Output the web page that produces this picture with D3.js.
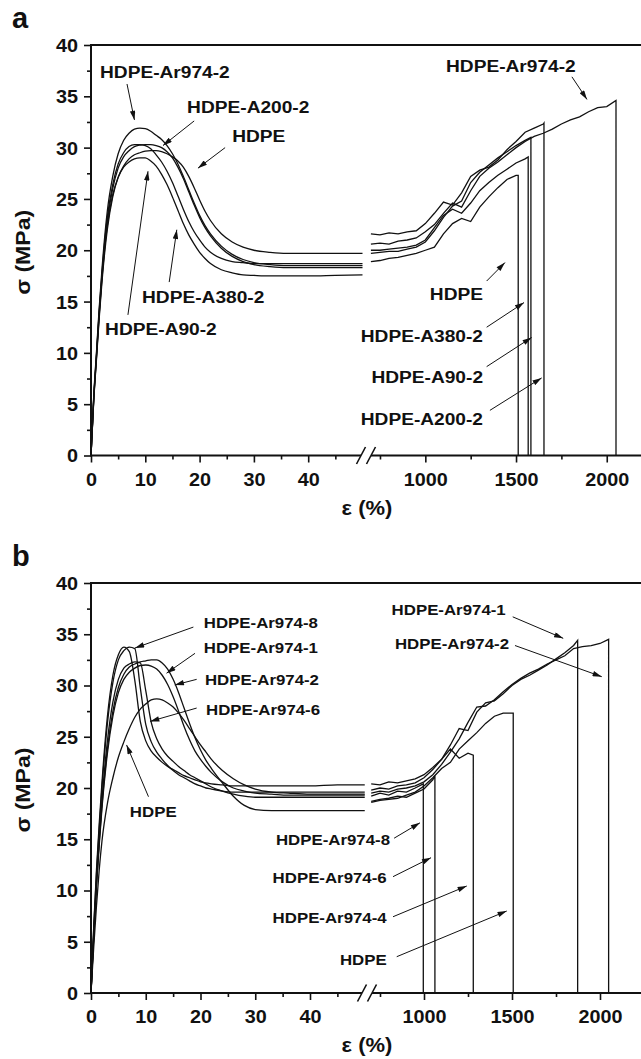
<!DOCTYPE html>
<html>
<head>
<meta charset="utf-8">
<script src="https://cdn.jsdelivr.net/npm/d3@7"></script>
<style>
  body { margin: 0; background: #fff; }
  svg { display: block; }
  text { font-family: "Liberation Sans", Arial, sans-serif; font-weight: bold; fill: #111; }
</style>
</head>
<body>
<div id="chart"></div>
<script>
// strain grids (%): yield part (left of the break) and drawing part (right of the break)
const leftStrain = [0, 0.5, 1, 1.5, 2, 3, 4, 5, 6, 7, 8, 9, 10, 11, 12, 13, 14, 15, 16, 17, 18, 19, 20, 21, 22, 24, 26, 28, 30, 33, 36, 40, 45, 50];
const rightStrain = [700, 750, 800, 850, 900, 950, 1000, 1050, 1100, 1150, 1200, 1250, 1300, 1350, 1400, 1450, 1500, 1550, 1600, 1650, 1700, 1750, 1800, 1850, 1900, 1950, 2000];

// tick values
const yMajor = [0, 5, 10, 15, 20, 25, 30, 35, 40];
const yMinor = [2.5, 7.5, 12.5, 17.5, 22.5, 27.5, 32.5, 37.5];
const xLeftMajor = [0, 10, 20, 30, 40];
const xLeftMinor = [5, 15, 25, 35, 45];
const xRightMajor = [1000, 1500, 2000];
const xRightMinor = [750, 1250, 1750];

// ---- panel a : stress (MPa) ----
const aSamples = ["HDPE", "HDPE-A90-2", "HDPE-A200-2", "HDPE-A380-2", "HDPE-Ar974-2"];
const aLeftHDPE = [0, 5.3, 9.3, 13.3, 16.8, 22, 25.2, 27.1, 28.2, 28.9, 29.3, 29.5, 29.65, 29.7, 29.7, 29.6, 29.4, 29.1, 28.7, 28.1, 27.2, 26.1, 24.9, 23.8, 22.9, 21.6, 20.8, 20.3, 20, 19.8, 19.7, 19.7, 19.7, 19.7];
const aLeftA90 = [0, 5.4, 9.5, 13.6, 17.1, 22.4, 25.4, 27.1, 28.1, 28.6, 28.9, 29, 29, 28.7, 28.2, 27.4, 26.4, 25.2, 23.9, 22.6, 21.5, 20.6, 19.8, 19.2, 18.7, 18.1, 17.8, 17.6, 17.55, 17.5, 17.5, 17.5, 17.55, 17.6];
const aLeftA200 = [0, 5.5, 9.6, 13.8, 17.3, 22.8, 26, 28, 29.1, 29.7, 30.1, 30.25, 30.3, 30.3, 30.2, 30, 29.6, 29, 28.1, 27, 25.7, 24.4, 23.2, 22.2, 21.4, 20.2, 19.4, 18.9, 18.6, 18.4, 18.3, 18.3, 18.3, 18.3];
const aLeftA380 = [0, 5.6, 9.8, 14, 17.6, 23.2, 26.4, 28.4, 29.5, 30.1, 30.3, 30.3, 30.2, 29.9, 29.3, 28.6, 27.7, 26.6, 25.3, 24, 22.8, 21.8, 21, 20.3, 19.8, 19.2, 18.9, 18.8, 18.7, 18.7, 18.7, 18.7, 18.7, 18.7];
const aLeftAr974 = [0, 5.8, 10, 14.3, 18, 23.8, 27.2, 29.4, 30.7, 31.4, 31.8, 31.9, 31.85, 31.6, 31.2, 30.8, 30.2, 29.4, 28.4, 27.2, 25.9, 24.6, 23.4, 22.4, 21.6, 20.4, 19.6, 19.1, 18.8, 18.6, 18.5, 18.5, 18.5, 18.5];

const aRightHDPE = [18.9, 19.0, 19.2, 19.3, 19.5, 19.7, 20.0, 20.3, 21.6, 22.6, 23.1, 22.8, 24.2, 25.2, 26.1, 26.9, 27.3];
const aRightA90 = [19.7, 19.8, 19.9, 19.9, 20.1, 20.3, 20.8, 21.9, 23.2, 24.3, 24.8, 26.6, 27.6, 28.3, 29.0, 29.6, 30.2, 30.7];
const aRightA200 = [21.6, 21.5, 21.7, 21.6, 21.8, 21.9, 22.6, 23.6, 24.7, 24.4, 25.6, 27.2, 27.8, 28.1, 28.8, 29.8, 30.6, 31.5, 31.9, 32.3];
const aRightA380 = [20.0, 20.0, 20.1, 20.2, 20.3, 20.5, 21.0, 22.2, 23.4, 24.0, 23.6, 24.6, 25.8, 26.6, 27.3, 27.9, 28.5, 28.9];
const aRightAr974 = [20.6, 20.7, 20.6, 20.9, 21.0, 21.2, 21.8, 22.5, 23.6, 24.6, 24.2, 25.8, 27.2, 28.0, 28.6, 29.3, 30.0, 30.6, 31.1, 31.4, 31.8, 32.3, 32.7, 33.0, 33.5, 33.9, 34.0];

const aBreakStrain = [1512, 1582, 1654, 1567, 2051];
const aBreakStress = [27.3, 31.0, 32.4, 29.1, 34.6];

// annotations: text, segment, text strain, text stress, anchor, arrow from (strain, stress) to (strain, stress)
const aNotes = [
  ["HDPE-Ar974-2", "L", 1.66, 36.8, "start", 6.63, 36.2, 8.0, 32.7],
  ["HDPE-A200-2", "L", 17.7, 33.4, "start", 19.0, 32.6, 13.26, 30.2],
  ["HDPE", "L", 26.0, 30.5, "start", 24.7, 30.0, 19.7, 28.0],
  ["HDPE-A380-2", "L", 9.4, 14.85, "start", 14.4, 16.9, 15.8, 22.0],
  ["HDPE-A90-2", "L", 2.6, 11.75, "start", 6.8, 13.7, 10.5, 27.7],
  ["HDPE-Ar974-2", "R", 1114, 37.4, "start", 1808, 36.9, 1891, 34.7],
  ["HDPE", "R", 1318, 15.2, "end", 1338, 17.0, 1439, 18.8],
  ["HDPE-A380-2", "R", 1318, 11.1, "end", 1338, 12.5, 1544, 14.9],
  ["HDPE-A90-2", "R", 1318, 7.07, "end", 1338, 8.66, 1586, 11.5],
  ["HDPE-A200-2", "R", 1318, 2.98, "end", 1356, 4.4, 1641, 7.56]
];

// ---- panel b : stress (MPa) ----
const bSamples = ["HDPE", "HDPE-Ar974-1", "HDPE-Ar974-2", "HDPE-Ar974-4", "HDPE-Ar974-6", "HDPE-Ar974-8"];
const bLeftHDPE = [0, 4.5, 8.5, 12, 14.8, 18.5, 21, 23, 24.5, 25.8, 26.9, 27.7, 28.2, 28.6, 28.7, 28.6, 28.3, 27.9, 27.3, 26.6, 25.8, 25, 24.2, 23.5, 22.8, 21.7, 20.9, 20.3, 19.9, 19.6, 19.5, 19.4, 19.4, 19.4];
const bLeftAr1 = [0, 5.6, 10.6, 14.7, 18.3, 23.8, 27.5, 29.8, 31.1, 31.8, 32.1, 32.3, 32.4, 32.5, 32.5, 32.2, 31.6, 30.6, 29.3, 27.8, 26.3, 24.9, 23.7, 22.7, 21.9, 20.5, 19.2, 18.3, 17.9, 17.8, 17.8, 17.8, 17.8, 17.8];
const bLeftAr2 = [0, 5.5, 10.4, 14.4, 18, 23.4, 27, 29.3, 30.6, 31.3, 31.7, 31.95, 32, 31.9, 31.6, 31, 30.1, 28.9, 27.5, 26, 24.7, 23.6, 22.8, 22.1, 21.5, 20.6, 20, 19.7, 19.5, 19.4, 19.3, 19.3, 19.3, 19.3];
const bLeftAr4 = [0, 6.5, 12, 16.5, 20.5, 27, 31, 33, 33.75, 33.3, 30.5, 26.5, 24.6, 23.6, 23, 22.5, 22.1, 21.8, 21.5, 21.2, 21, 20.8, 20.6, 20.5, 20.4, 20.3, 20.2, 20.2, 20.2, 20.2, 20.2, 20.2, 20.3, 20.3];
const bLeftAr6 = [0, 5.8, 10.8, 15, 18.8, 24.6, 28.4, 30.6, 31.7, 32.1, 32.3, 32.2, 29.5, 26.4, 24.8, 23.8, 23.1, 22.6, 22.1, 21.7, 21.3, 21, 20.7, 20.4, 20.1, 19.7, 19.4, 19.2, 19.1, 19.1, 19.1, 19.1, 19.1, 19.1];
const bLeftAr8 = [0, 6.3, 11.6, 16, 20, 26.3, 30.3, 32.5, 33.4, 33.75, 33.6, 29.8, 26.2, 24.5, 23.5, 22.8, 22.2, 21.7, 21.3, 21, 20.7, 20.4, 20.2, 20, 19.9, 19.7, 19.6, 19.6, 19.6, 19.6, 19.6, 19.6, 19.6, 19.6];

const bRightHDPE = [18.6, 18.8, 18.9, 19.0, 19.3, 19.6, 20.2, 21.0, 21.9, 22.5, 23.8, 24.6, 25.4, 26.3, 27.0, 27.3, 27.3];
const bRightAr1 = [19.8, 20.0, 19.9, 20.2, 20.3, 20.5, 21.0, 21.8, 22.8, 24.2, 25.8, 25.6, 27.4, 28.3, 28.5, 29.2, 30.0, 30.6, 31.0, 31.5, 32.0, 32.6, 33.2, 33.9];
const bRightAr2 = [19.5, 19.7, 19.6, 19.9, 20.0, 20.2, 20.6, 21.3, 22.3, 23.5, 24.8, 26.4, 27.9, 28.0, 28.6, 29.4, 30.1, 30.7, 31.2, 31.6, 32.1, 32.5, 32.9, 33.6, 33.8, 33.9, 34.1];
const bRightAr4 = [20.4, 20.3, 20.6, 20.5, 20.7, 20.9, 21.3, 22.0, 22.8, 23.8, 22.9, 23.4];
const bRightAr6 = [18.7, 18.9, 19.0, 19.2, 19.1, 19.5, 19.9, 20.8];
const bRightAr8 = [19.2, 19.5, 19.3, 19.7, 19.6, 20.0];

const bBreakStrain = [1507, 1873, 2049, 1280, 1062, 996];
const bBreakStress = [27.3, 34.4, 34.5, 23.2, 21.2, 20.4];

const bNotes = [
  ["HDPE-Ar974-8", "L", 20.6, 35.6, "start", 18.7, 35.7, 8.04, 33.66],
  ["HDPE-Ar974-1", "L", 20.6, 33.2, "start", 19.0, 33.14, 13.8, 31.2],
  ["HDPE-Ar974-2", "L", 20.8, 30.05, "start", 19.3, 30.6, 15.3, 30.05],
  ["HDPE-Ar974-6", "L", 21.0, 27.1, "start", 19.3, 27.8, 10.8, 26.5],
  ["HDPE", "L", 7.1, 17.2, "start", 10.5, 19.15, 6.5, 24.2],
  ["HDPE-Ar974-1", "R", 816, 36.9, "start", 1504, 36.7, 1791, 34.6],
  ["HDPE-Ar974-2", "R", 835, 33.6, "start", 1517, 33.9, 2010, 30.86],
  ["HDPE-Ar974-8", "R", 807, 14.4, "end", 830, 15.1, 977, 16.6],
  ["HDPE-Ar974-6", "R", 788, 10.7, "end", 824, 11.35, 1040, 13.2],
  ["HDPE-Ar974-4", "R", 788, 6.8, "end", 824, 7.44, 1243, 10.44],
  ["HDPE", "R", 788, 2.73, "end", 845, 3.54, 1470, 8.0]
];

const panels = [
  { name: "a", top: 45, bottom: 455.5, xLeft: [91, 362.5], xRight: [370.9, 652.1], slash: [361, 371], noteSize: 17.4,
    left: [aLeftHDPE, aLeftA90, aLeftA200, aLeftA380, aLeftAr974],
    right: [aRightHDPE, aRightA90, aRightA200, aRightA380, aRightAr974],
    breakStrain: aBreakStrain, breakStress: aBreakStress, notes: aNotes },
  { name: "b", top: 583, bottom: 993, xLeft: [91, 364.75], xRight: [371.2, 644], slash: [362, 372], noteSize: 15.3,
    left: [bLeftHDPE, bLeftAr1, bLeftAr2, bLeftAr4, bLeftAr6, bLeftAr8],
    right: [bRightHDPE, bRightAr1, bRightAr2, bRightAr4, bRightAr6, bRightAr8],
    breakStrain: bBreakStrain, breakStress: bBreakStress, notes: bNotes }
];

const ink = "#111";
const svg = d3.select("#chart").append("svg").attr("width", 641).attr("height", 1059);

svg.append("defs").append("marker")
    .attr("id", "arrow")
    .attr("viewBox", "0 0 10 6")
    .attr("refX", 10).attr("refY", 3)
    .attr("markerWidth", 10).attr("markerHeight", 5.5)
    .attr("markerUnits", "userSpaceOnUse")
    .attr("orient", "auto")
  .append("path").attr("d", "M0,0L10,3L0,6Z").attr("fill", ink);

function styleAxis(ax) {
    ax.attr("font-family", null).attr("font-size", null);
    ax.select(".domain").remove();
    ax.selectAll(".tick line").attr("stroke", ink).attr("stroke-width", 1.6);
}

function drawPanel(p) {
    const g = svg.append("g");
    const y = d3.scaleLinear().domain([0, 40]).range([p.bottom, p.top]);
    const xL = d3.scaleLinear().domain([0, 50]).range(p.xLeft);
    const xR = d3.scaleLinear().domain([700, 2250]).range(p.xRight);

    // y axis
    const yAx = g.append("g").attr("transform", `translate(${p.xLeft[0]},0)`)
        .call(d3.axisLeft(y).tickValues(yMajor).tickSize(7).tickFormat(d3.format("d")));
    styleAxis(yAx);
    yAx.selectAll("text")
        .attr("x", null).attr("dy", "0.36em")
        .attr("transform", "translate(-13,0) scale(1.1,1)")
        .style("font-size", "18px").attr("fill", ink);
    const yMin = g.append("g").attr("transform", `translate(${p.xLeft[0]},0)`)
        .call(d3.axisLeft(y).tickValues(yMinor).tickSize(4).tickFormat(""));
    styleAxis(yMin);

    // x axes (two segments)
    [[xL, xLeftMajor, xLeftMinor], [xR, xRightMajor, xRightMinor]].forEach(([sc, maj, min]) => {
        const ax = g.append("g").attr("transform", `translate(0,${p.bottom})`)
            .call(d3.axisBottom(sc).tickValues(maj).tickSize(7).tickFormat(d3.format("d")));
        styleAxis(ax);
        ax.selectAll("text")
            .attr("y", null).attr("dy", null)
            .attr("transform", "translate(0,30) scale(1.1,1)")
            .style("font-size", "18px").attr("fill", ink);
        const axm = g.append("g").attr("transform", `translate(0,${p.bottom})`)
            .call(d3.axisBottom(sc).tickValues(min).tickSize(4).tickFormat(""));
        styleAxis(axm);
    });

    // frame lines
    g.append("line").attr("x1", p.xLeft[0]).attr("x2", p.xLeft[0]).attr("y1", p.top - 1).attr("y2", p.bottom + 1)
        .attr("stroke", ink).attr("stroke-width", 2);
    g.append("line").attr("x1", p.xLeft[0]).attr("x2", 650).attr("y1", p.top).attr("y2", p.top)
        .attr("stroke", ink).attr("stroke-width", 2);
    g.append("line").attr("x1", p.xLeft[0]).attr("x2", p.slash[0]).attr("y1", p.bottom).attr("y2", p.bottom)
        .attr("stroke", ink).attr("stroke-width", 2);
    g.append("line").attr("x1", p.slash[1]).attr("x2", 650).attr("y1", p.bottom).attr("y2", p.bottom)
        .attr("stroke", ink).attr("stroke-width", 2);
    p.slash.forEach(c => {
        g.append("line")
            .attr("x1", c - 4.5).attr("y1", p.bottom + 8.5)
            .attr("x2", c + 4.5).attr("y2", p.bottom - 8.5)
            .attr("stroke", ink).attr("stroke-width", 1.6);
    });

    // curves, yield part
    const lineL = d3.line()
        .x((d, i) => xL(leftStrain[i]))
        .y(d => y(d))
        .curve(d3.curveMonotoneX);
    g.selectAll(".cl").data(p.left).enter().append("path")
        .attr("d", lineL)
        .attr("fill", "none").attr("stroke", ink).attr("stroke-width", 1.3);

    // curves, drawing part, ending with the break drop
    const lineR = d3.line().x(d => xR(d[0])).y(d => y(d[1]));
    p.right.forEach((vals, k) => {
        const pts = vals.map((v, i) => [rightStrain[i], v]);
        pts.push([p.breakStrain[k], p.breakStress[k]]);
        pts.push([p.breakStrain[k], 0]);
        g.append("path").attr("d", lineR(pts))
            .attr("fill", "none").attr("stroke", ink).attr("stroke-width", 1.3);
    });

    // annotations
    p.notes.forEach(n => {
        const sx = n[1] === "L" ? xL : xR;
        g.append("line")
            .attr("x1", sx(n[5])).attr("y1", y(n[6]))
            .attr("x2", sx(n[7])).attr("y2", y(n[8]))
            .attr("stroke", ink).attr("stroke-width", 1)
            .attr("marker-end", "url(#arrow)");
        g.append("text")
            .attr("transform", `translate(${sx(n[2])},${y(n[3])}) scale(1.1,1)`)
            .attr("text-anchor", n[4])
            .style("font-size", p.noteSize + "px")
            .text(n[0]);
    });

    // axis titles and panel letter
    g.append("text")
        .attr("transform", `translate(30,${(p.top + p.bottom) / 2 + 2}) rotate(-90) scale(1.1,1)`)
        .attr("text-anchor", "middle")
        .style("font-size", "21px")
        .text("σ (MPa)");
    g.append("text")
        .attr("transform", `translate(367,${p.bottom + 59}) scale(1.1,1)`)
        .attr("text-anchor", "middle")
        .style("font-size", "20px")
        .text("ε (%)");
    g.append("text")
        .attr("x", 12).attr("y", p.top - 17)
        .style("font-size", "29px")
        .text(p.name);
}

panels.forEach(drawPanel);
</script>
</body>
</html>
